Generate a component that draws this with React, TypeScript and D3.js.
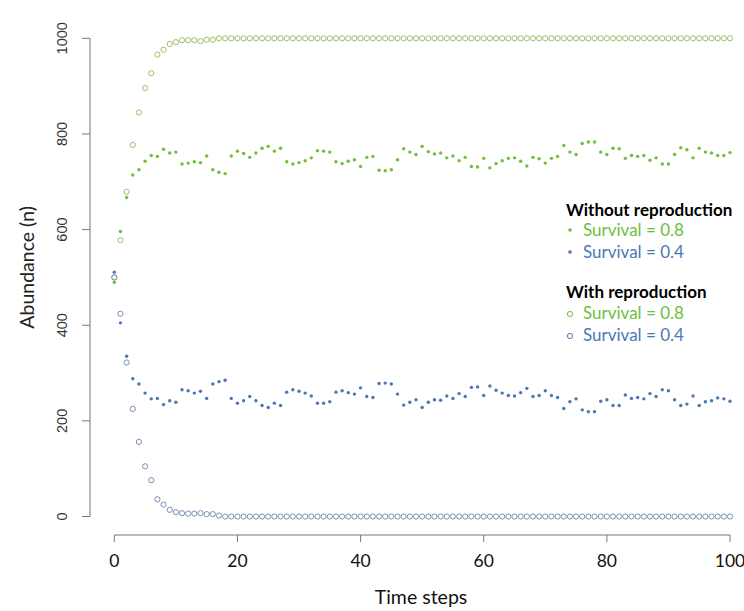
import React from "react";
import { scaleLinear, range } from "d3";

// time steps 0..100
const steps = range(0, 101);

// with reproduction, survival = 0.8 (open green circles)
const withRepro08 = [
  500, 578, 679, 777, 845, 896, 927, 966, 976, 988, 992, 996, 996, 996, 994, 997, 997, 1000, 1000, 1000,
  1000, 1000, 1000, 1000, 1000, 1000, 1000, 1000, 1000, 1000, 1000, 1000, 1000, 1000, 1000, 1000, 1000, 1000, 1000, 1000,
  1000, 1000, 1000, 1000, 1000, 1000, 1000, 1000, 1000, 1000, 1000, 1000, 1000, 1000, 1000, 1000, 1000, 1000, 1000, 1000,
  1000, 1000, 1000, 1000, 1000, 1000, 1000, 1000, 1000, 1000, 1000, 1000, 1000, 1000, 1000, 1000, 1000, 1000, 1000, 1000,
  1000, 1000, 1000, 1000, 1000, 1000, 1000, 1000, 1000, 1000, 1000, 1000, 1000, 1000, 1000, 1000, 1000, 1000, 1000, 1000,
  1000,
];

// with reproduction, survival = 0.4 (open blue circles)
const withRepro04 = [
  500, 424, 322, 225, 156, 105, 76, 36, 25, 14, 9, 7, 6, 6, 7, 5, 5, 2, 0, 0,
  0, 0, 0, 0, 0, 0, 0, 0, 0, 0, 0, 0, 0, 0, 0, 0, 0, 0, 0, 0,
  0, 0, 0, 0, 0, 0, 0, 0, 0, 0, 0, 0, 0, 0, 0, 0, 0, 0, 0, 0,
  0, 0, 0, 0, 0, 0, 0, 0, 0, 0, 0, 0, 0, 0, 0, 0, 0, 0, 0, 0,
  0, 0, 0, 0, 0, 0, 0, 0, 0, 0, 0, 0, 0, 0, 0, 0, 0, 0, 0, 0,
  0,
];

// without reproduction, survival = 0.8 (green dots)
const noRepro08 = [
  490, 596, 667, 714, 725, 743, 755, 753, 768, 760, 762, 737, 739, 742, 740, 754, 725, 720, 717, 754,
  764, 759, 751, 760, 770, 774, 764, 770, 742, 737, 740, 744, 750, 765, 764, 762, 742, 738, 743, 746,
  732, 751, 753, 724, 723, 725, 746, 769, 762, 757, 774, 763, 758, 760, 750, 754, 744, 751, 732, 731,
  749, 729, 738, 744, 749, 750, 743, 733, 751, 748, 739, 749, 753, 776, 762, 757, 780, 783, 783, 762,
  757, 770, 769, 749, 755, 753, 755, 745, 750, 737, 737, 757, 771, 767, 750, 770, 762, 760, 755, 755,
  761,
];

// without reproduction, survival = 0.4 (blue dots)
const noRepro04 = [
  511, 405, 335, 288, 277, 258, 246, 247, 234, 242, 239, 265, 263, 258, 262, 247, 277, 282, 285, 247,
  237, 242, 251, 242, 232, 228, 237, 232, 260, 265, 262, 258, 252, 237, 237, 240, 260, 263, 259, 256,
  269, 251, 249, 278, 279, 277, 256, 233, 239, 244, 228, 239, 244, 243, 252, 247, 257, 251, 270, 271,
  253, 273, 264, 258, 253, 252, 259, 268, 251, 253, 263, 253, 249, 226, 240, 246, 223, 219, 219, 241,
  244, 232, 232, 254, 247, 249, 246, 257, 251, 265, 263, 244, 232, 235, 252, 232, 240, 242, 248, 246,
  241,
];

const xTicks = [0, 20, 40, 60, 80, 100];
const yTicks = [0, 200, 400, 600, 800, 1000];

const GREEN = "#6dbf3c";
const BLUE = "#4a78b4";
const GREEN_RING = "#9cc068";
const BLUE_RING = "#7890b2";

const W = 744;
const H = 611;
const sans = "Lato, 'Liberation Sans', sans-serif";
const arial = "'Liberation Sans', Arial, sans-serif";

export default function App() {
  const x = scaleLinear().domain([0, 100]).range([114.3, 730]);
  const y = scaleLinear().domain([0, 1000]).range([516.5, 38.3]);

  const axisY = 535;
  const axisX = 90;

  const legendX = 566;

  return (
    <div style={{ position: "absolute", left: 0, top: 0 }}>
      <svg width={W} height={H} style={{ display: "block", background: "#fff" }}>
        {/* y axis */}
        <line x1={axisX} x2={axisX} y1={y(0)} y2={y(1000)} stroke="#777" />
        {yTicks.map((t) => (
          <g key={t}>
            <line x1={axisX - 8} x2={axisX} y1={y(t)} y2={y(t)} stroke="#777" />
            <text
              transform={`translate(67,${y(t)}) rotate(-90)`}
              textAnchor="middle"
              fontFamily={arial}
              fontSize={14.5}
              fill="#333"
            >
              {t}
            </text>
          </g>
        ))}
        <text
          transform={`translate(34,${y(500) - 10}) rotate(-90)`}
          textAnchor="middle"
          fontFamily={sans}
          fontSize={19.5}
          fill="#222"
        >
          Abundance (n)
        </text>

        {/* x axis */}
        <line x1={x(0)} x2={x(100)} y1={axisY} y2={axisY} stroke="#777" />
        {xTicks.map((t) => (
          <g key={t}>
            <line x1={x(t)} x2={x(t)} y1={axisY} y2={axisY + 7} stroke="#777" />
            <text
              x={x(t)}
              y={567}
              textAnchor="middle"
              fontFamily={sans}
              fontSize={17.5}
              fill="#111"
            >
              {t}
            </text>
          </g>
        ))}
        <text x={421} y={603.5} textAnchor="middle" fontFamily={sans} fontSize={19.5} fill="#111">
          Time steps
        </text>

        {/* open circles: with reproduction */}
        {steps.map((t) => (
          <circle
            key={"g" + t}
            cx={x(t)}
            cy={y(withRepro08[t])}
            r={2.6}
            fill="none"
            stroke={GREEN_RING}
            strokeWidth={1}
          />
        ))}
        {steps.map((t) => (
          <circle
            key={"b" + t}
            cx={x(t)}
            cy={y(withRepro04[t])}
            r={2.6}
            fill="none"
            stroke={BLUE_RING}
            strokeWidth={1}
          />
        ))}

        {/* dots: without reproduction */}
        {steps.map((t) => (
          <circle key={"gd" + t} cx={x(t)} cy={y(noRepro08[t])} r={1.7} fill={GREEN} />
        ))}
        {steps.map((t) => (
          <circle key={"bd" + t} cx={x(t)} cy={y(noRepro04[t])} r={1.7} fill={BLUE} />
        ))}

        {/* legend */}
        <g fontFamily={sans} fontSize={17}>
          <text x={legendX} y={215.5} fontWeight="bold" fill="#000">
            Without reproduction
          </text>
          <circle cx={570} cy={230} r={1.8} fill={GREEN} />
          <text x={583} y={236} fill={GREEN}>
            Survival = 0.8
          </text>
          <circle cx={570} cy={252} r={1.8} fill={BLUE} />
          <text x={583} y={258} fill={BLUE}>
            Survival = 0.4
          </text>

          <text x={legendX} y={297.5} fontWeight="bold" fill="#000">
            With reproduction
          </text>
          <circle cx={570} cy={314} r={2.6} fill="none" stroke={GREEN} />
          <text x={583} y={319} fill={GREEN}>
            Survival = 0.8
          </text>
          <circle cx={570} cy={336} r={2.6} fill="none" stroke={BLUE} />
          <text x={583} y={341} fill={BLUE}>
            Survival = 0.4
          </text>
        </g>
      </svg>
    </div>
  );
}
